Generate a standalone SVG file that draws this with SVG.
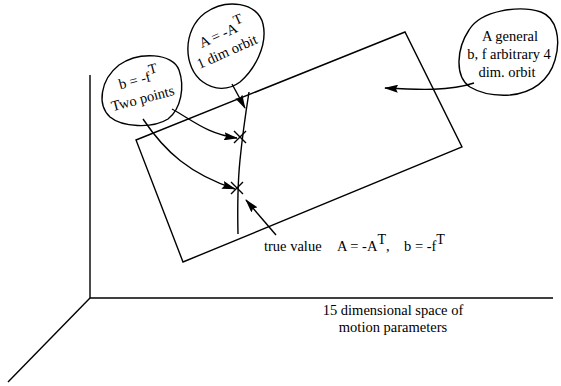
<svg xmlns="http://www.w3.org/2000/svg" width="561" height="386" viewBox="0 0 561 386">
<style>
.ln{fill:none;stroke:#000;stroke-width:1.4}
.t{font-family:"Liberation Serif","Times New Roman",serif;font-size:14.5px;fill:#000}
.sup{font-size:14px}
</style>
<defs>
<marker id="ah" viewBox="0 0 14 8" refX="13" refY="4" markerWidth="14" markerHeight="8" markerUnits="userSpaceOnUse" orient="auto">
<path d="M0,0 L14,4 L0,8 L2,4 Z" fill="#000"/>
</marker>
</defs>
<rect width="561" height="386" fill="#fff"/>
<g id="axes" class="ln">
<path d="M90,75 L90,298 L553,298"/>
<path d="M90,298 L8,382"/>
</g>
<g id="plane">
<path class="ln" d="M136,140 L405,32 L462,147 L183,262 Z"/>
</g>
<g id="orbit">
<path class="ln" d="M249,92 Q243,130 240,160 Q237,190 238,234"/>
<path class="ln" d="M234,131 L246,143 M246,131 L234,143"/>
<path class="ln" d="M231,182 L243,194 M243,182 L231,194"/>
</g>
<g id="bubble-A">
<path class="ln" d="M203,82 C183,68 182,30 205,13 C226,-2 258,2 263,24 C268,46 254,70 240,82 C228,91 214,90 203,82 Z"/>
<text class="t" transform="translate(224,38) rotate(-24)" text-anchor="middle">A = -A<tspan class="sup" dy="-7">T</tspan></text>
<text class="t" transform="translate(229,56) rotate(-24)" text-anchor="middle">1 dim orbit</text>
</g>
<g id="bubble-b">
<path class="ln" d="M110,117 C97,105 100,80 119,65 C139,51 173,53 179,70 C185,87 181,109 168,119 C152,129 122,127 110,117 Z"/>
<text class="t" transform="translate(140,84) rotate(-15)" text-anchor="middle">b = -f<tspan class="sup" dy="-7">T</tspan></text>
<text class="t" transform="translate(144,103) rotate(-15)" text-anchor="middle">Two points</text>
</g>
<g id="bubble-general">
<path class="ln" d="M470,87 C454,76 457,48 469,30 C481,10 520,5 541,12 C557,18 561,40 555,60 C549,81 532,93 510,95 C494,96 480,93 470,87 Z"/>
<text class="t" x="510" y="41" text-anchor="middle">A general</text>
<text class="t" x="509" y="59" text-anchor="middle">b, f arbitrary 4</text>
<text class="t" x="507" y="77" text-anchor="middle">dim. orbit</text>
</g>
<g id="labels">
<text class="t" y="251"><tspan x="264">true value</tspan><tspan x="337">A = -A</tspan><tspan class="sup" dy="-7">T</tspan><tspan dy="7">,</tspan><tspan x="404">b = -f</tspan><tspan class="sup" dy="-7">T</tspan></text>
<text class="t" x="393" y="315" text-anchor="middle">15 dimensional space of</text>
<text class="t" x="393" y="332" text-anchor="middle">motion parameters</text>
</g>
<g id="connectors" class="ln">
<path d="M172,109 C195,122 208,134 237,138" marker-end="url(#ah)"/>
<path d="M143,119 C165,152 190,174 235,189" marker-end="url(#ah)"/>
<path d="M232,84 L245,108" marker-end="url(#ah)"/>
<path d="M474,83 C450,91 420,90 385,88" marker-end="url(#ah)"/>
<path d="M276,235 L246,200" marker-end="url(#ah)"/>
</g>
</svg>
